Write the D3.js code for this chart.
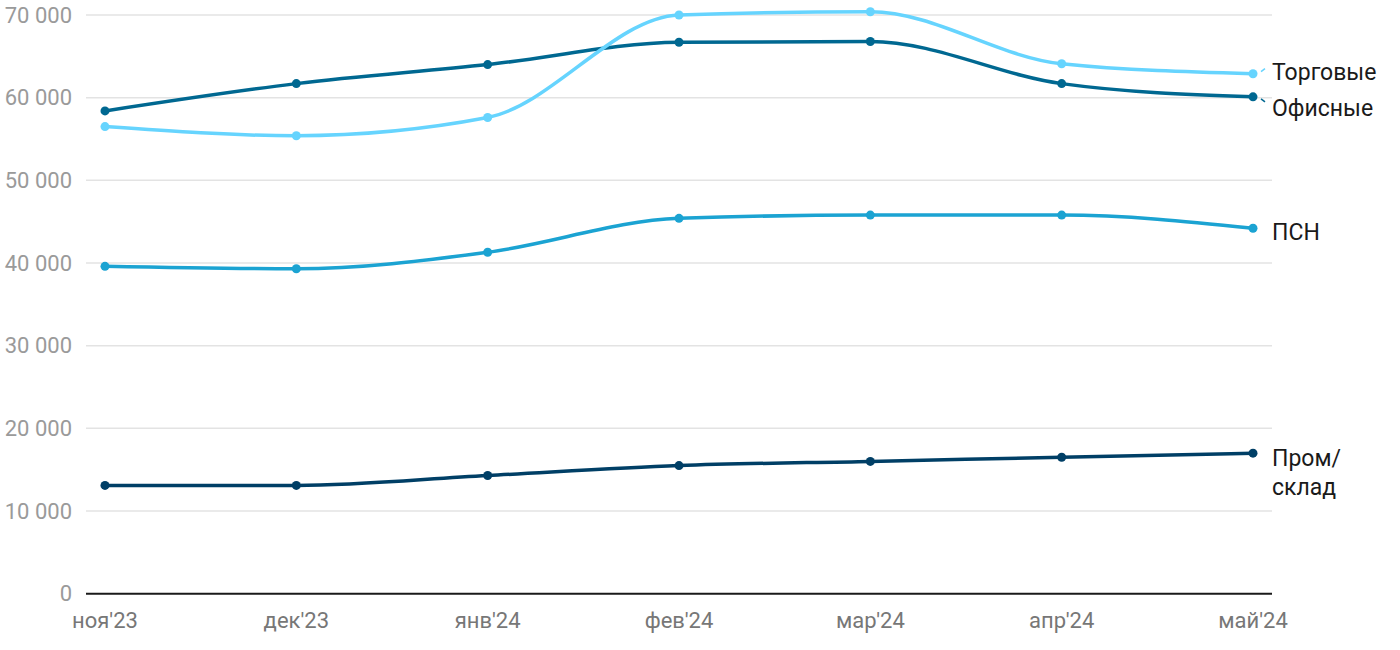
<!DOCTYPE html>
<html><head><meta charset="utf-8">
<script src="https://cdn.jsdelivr.net/npm/d3@7"></script>
<style>
body{margin:0;background:#fff;}
svg{font-family:Roboto,"Noto Sans",sans-serif;}
</style></head>
<body><svg id="c" width="1400" height="650"></svg>
<script>
const months = ["ноя'23","дек'23","янв'24","фев'24","мар'24","апр'24","май'24"];
const torgovye = [56500,55400,57600,70000,70400,64100,62900];
const ofisnye = [58400,61700,64000,66700,66800,61700,60100];
const psn = [39600,39300,41300,45400,45800,45800,44200];
const promsklad = [13100,13100,14300,15500,16000,16500,17000];
const yTicks = [0,10000,20000,30000,40000,50000,60000,70000];

const series = [
  {name:["Торговые"], values:torgovye, color:"#66d4fe", labelY:72, connector:true},
  {name:["Офисные"], values:ofisnye, color:"#006891", labelY:108, connector:true},
  {name:["ПСН"], values:psn, color:"#1ba3d2", labelY:232, connector:false},
  {name:["Пром/","склад"], values:promsklad, color:"#003f66", labelY:458, connector:false}
];

const svg = d3.select("#c");
const x = d3.scalePoint().domain(months).range([105,1253]);
const y = d3.scaleLinear().domain([0,70000]).range([593.7,15]);
const gridL = 86, gridR = 1272;
const fmt = v => d3.format(",")(v).replace(/,/g," ");

const g = svg.append("g");
yTicks.forEach(t=>{
  if(t>0) g.append("line").attr("x1",gridL).attr("x2",gridR).attr("y1",y(t)).attr("y2",y(t))
    .attr("stroke","#e3e3e3").attr("stroke-width",1.5);
  g.append("text").attr("x",72).attr("y",y(t)).attr("dy","0.35em").attr("text-anchor","end")
    .attr("fill","#9a9a9a").attr("font-size",22).text(fmt(t));
});
g.append("line").attr("x1",gridL).attr("x2",gridR).attr("y1",y(0)).attr("y2",y(0))
  .attr("stroke","#1a1a1a").attr("stroke-width",2);

months.forEach(m=>{
  g.append("text").attr("x",x(m)).attr("y",628).attr("text-anchor","middle")
    .attr("fill","#777").attr("font-size",22).text(m);
});

const line = d3.line().x((d,i)=>x(months[i])).y(d=>y(d)).curve(d3.curveMonotoneX);
[series[3],series[2],series[1],series[0]].forEach(s=>{
  svg.append("path").attr("d",line(s.values)).attr("fill","none")
    .attr("stroke",s.color).attr("stroke-width",3.5).attr("stroke-linejoin","round");
  s.values.forEach((v,i)=>{
    svg.append("circle").attr("cx",x(months[i])).attr("cy",y(v)).attr("r",4.5).attr("fill",s.color);
  });
  const last = s.values[s.values.length-1];
  const lx = x(months[months.length-1]), ly = y(last);
  if(s.connector){
    const up = s.labelY < ly;
    svg.append("line").attr("x1",lx+8).attr("y1",ly+(up?-2:2))
      .attr("x2",lx+12).attr("y2",ly+(up?-5:5))
      .attr("stroke",s.color).attr("stroke-width",1.5);
  }
  const t = svg.append("text").attr("font-size",23).attr("fill","#1a1a1a");
  s.name.forEach((nm,k)=>{
    t.append("tspan").attr("x",1272).attr("y",s.labelY+k*29)
      .attr("dy","0.35em").text(nm);
  });
});
</script></body></html>
